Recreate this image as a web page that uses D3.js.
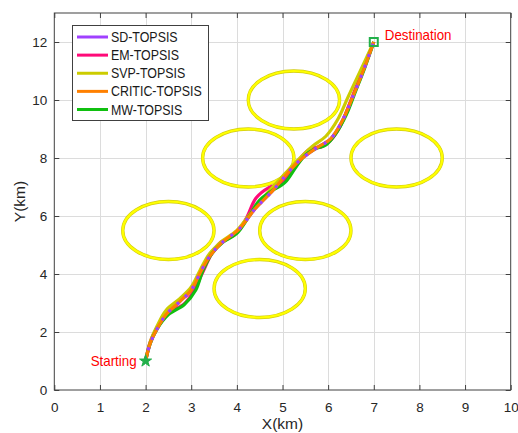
<!DOCTYPE html>
<html><head><meta charset="utf-8">
<script src="https://cdn.jsdelivr.net/npm/d3@7"></script>
<style>body{margin:0;background:#fff}</style>
</head><body>
<svg id="c" width="518" height="433"></svg>
<script>
// ---------- data ----------
const xTicks = [0,1,2,3,4,5,6,7,8,9,10];
const yTicks = [0,2,4,6,8,10,12];
const seriesNames = ["SD-TOPSIS","EM-TOPSIS","SVP-TOPSIS","CRITIC-TOPSIS","MW-TOPSIS"];
const obstacleX = [2.5, 4.5, 5.5, 4.25, 5.25, 7.5];
const obstacleY = [5.5, 3.5, 5.5, 8, 10, 8];
const obstacleR = [1, 1, 1, 1, 1, 1];
const startPoint = [2, 1];
const endPoint = [7, 12];
const sdPath = [[2,1],[2.1,1.6],[2.25,2.1],[2.45,2.6],[2.75,3.05],[3.0,3.45],[3.2,4.05],[3.4,4.6],[3.65,5.05],[4.05,5.55],[4.4,6.25],[4.8,6.9],[5.15,7.55],[5.4,7.95],[5.75,8.35],[6.05,8.65],[6.3,9.25],[6.55,10.15],[6.78,11.05],[7,12]];
const emPath = [[2,1],[2.1,1.65],[2.25,2.15],[2.5,2.65],[2.85,2.98],[3.05,3.4],[3.25,4.05],[3.45,4.7],[3.65,5.1],[3.95,5.35],[4.2,5.9],[4.42,6.62],[4.7,6.98],[5.0,7.15],[5.25,7.7],[5.45,8.1],[5.65,8.35],[5.85,8.38],[6.05,8.6],[6.25,9.05],[6.5,10.0],[6.75,11.0],[7,12]];
const svpPath = [[2,1],[2.1,1.65],[2.25,2.2],[2.45,2.75],[2.75,3.15],[3.0,3.55],[3.2,4.15],[3.4,4.7],[3.65,5.1],[4.0,5.5],[4.35,6.2],[4.7,6.85],[5.05,7.45],[5.35,7.95],[5.65,8.4],[5.95,8.75],[6.2,9.3],[6.45,10.15],[6.72,11.05],[7,12]];
const criticPath = [[2,1],[2.1,1.6],[2.25,2.1],[2.45,2.6],[2.75,3.05],[3.0,3.45],[3.2,4.05],[3.4,4.6],[3.65,5.05],[4.05,5.55],[4.4,6.25],[4.8,6.9],[5.15,7.55],[5.4,7.95],[5.75,8.35],[6.05,8.65],[6.3,9.25],[6.55,10.15],[6.78,11.05],[7,12]];
const mwPath = [[2,1],[2.1,1.6],[2.25,2.1],[2.5,2.6],[2.85,2.95],[3.1,3.45],[3.25,4.1],[3.45,4.7],[3.7,5.1],[4.0,5.4],[4.25,5.95],[4.5,6.55],[4.75,6.85],[5.05,7.15],[5.3,7.7],[5.5,8.1],[5.7,8.3],[5.95,8.45],[6.15,8.8],[6.4,9.5],[6.6,10.3],[6.8,11.1],[7,12]];

// ---------- styles ----------
const colors = {SD:"#a040ff", EM:"#ff0a78", SVP:"#cccc00", CRITIC:"#ff8000", MW:"#10c010"};
const legendColors = [colors.SD, colors.EM, colors.SVP, colors.CRITIC, colors.MW];
const FONT = "'Liberation Sans', Arial, Helvetica, sans-serif";
const TXT = "#262626";

const svg = d3.select("#c");
const L = 54.3, R = 510.7, T = 13, B = 390;
const x = d3.scaleLinear().domain([0,10]).range([L,R]);
const y = d3.scaleLinear().domain([0,13]).range([B,T]);

// grid
const grid = svg.append("g").attr("stroke","#dcdcdc").attr("stroke-width",1);
grid.selectAll(".gx").data(xTicks.slice(1,-1)).join("line")
  .attr("x1",d=>Math.round(x(d))+0.5).attr("x2",d=>Math.round(x(d))+0.5).attr("y1",T).attr("y2",B);
grid.selectAll(".gy").data(yTicks.slice(1)).join("line")
  .attr("y1",d=>Math.round(y(d))+0.5).attr("y2",d=>Math.round(y(d))+0.5).attr("x1",L).attr("x2",R);

// obstacles
const obs = obstacleX.map((cx,i)=>({cx, cy:obstacleY[i], r:obstacleR[i]}));
svg.append("g").selectAll("ellipse").data(obs).join("ellipse")
  .attr("cx",d=>x(d.cx)).attr("cy",d=>y(d.cy))
  .attr("rx",d=>x(d.r)-x(0)).attr("ry",d=>y(0)-y(d.r))
  .attr("fill","none").attr("stroke","#d2cc10").attr("stroke-width",3.4);
svg.append("g").selectAll("ellipse").data(obs).join("ellipse")
  .attr("cx",d=>x(d.cx)).attr("cy",d=>y(d.cy))
  .attr("rx",d=>x(d.r)-x(0)).attr("ry",d=>y(0)-y(d.r))
  .attr("fill","none").attr("stroke","#ffff00").attr("stroke-width",2.2);

// paths
const line = d3.line().x(d=>x(d[0])).y(d=>y(d[1])).curve(d3.curveCatmullRom.alpha(0.5));
const lw = 3.2;
const drawPath = (data,c,dash)=>svg.append("path").attr("d",line(data)).attr("fill","none")
  .attr("stroke",c).attr("stroke-width",lw).attr("stroke-linejoin","round")
  .attr("stroke-dasharray",dash||null);
drawPath(sdPath, colors.SD);
drawPath(emPath, colors.EM);
drawPath(svpPath, colors.SVP);
drawPath(mwPath, colors.MW);
drawPath(criticPath, colors.CRITIC);
drawPath(sdPath, colors.SD, "3,8");

// start / end markers
svg.append("path").attr("d",d3.symbol(d3.symbolStar,45)())
  .attr("transform",`translate(${x(startPoint[0])},${y(startPoint[1])})`)
  .attr("fill","#22b04a").attr("stroke","#22b04a").attr("stroke-width",1);
svg.append("rect").attr("x",x(endPoint[0])-4).attr("y",y(endPoint[1])-4).attr("width",8).attr("height",8)
  .attr("fill","none").attr("stroke","#22b04a").attr("stroke-width",2);

// condensed text helper
function ctext(g,px,py,str,size,sx,anchor,color){
  const t = g.append("g").attr("transform",`translate(${px},${py}) scale(${sx},1)`);
  return t.append("text").text(str).attr("font-family",FONT).attr("font-size",size)
    .attr("text-anchor",anchor||"start").attr("fill",color||TXT);
}
ctext(svg, x(startPoint[0])-9, y(startPoint[1])+4.5, "Starting", 14.5, 0.92, "end", "#ff0000");
ctext(svg, x(endPoint[0])+11, y(endPoint[1])-2, "Destination", 14.5, 0.92, "start", "#ff0000");

// frame
svg.append("rect").attr("x",L).attr("y",T).attr("width",R-L).attr("height",B-T)
  .attr("fill","none").attr("stroke","#404040").attr("stroke-width",1);

// axes
const ax = svg.append("g").attr("transform",`translate(0,${B})`)
  .call(d3.axisBottom(x).tickValues(xTicks).tickSize(-5).tickPadding(12).tickFormat(d3.format("d")));
const axT = svg.append("g").attr("transform",`translate(0,${T})`)
  .call(d3.axisTop(x).tickValues(xTicks).tickSize(-5).tickFormat(""));
const ay = svg.append("g").attr("transform",`translate(${L},0)`)
  .call(d3.axisLeft(y).tickValues(yTicks).tickSize(-5).tickPadding(7).tickFormat(d3.format("d")));
const ayR = svg.append("g").attr("transform",`translate(${R},0)`)
  .call(d3.axisRight(y).tickValues(yTicks).tickSize(-5).tickFormat(""));
[ax,axT,ay,ayR].forEach(a=>{
  a.select(".domain").remove();
  a.selectAll(".tick line").attr("stroke","#404040");
  a.selectAll("text").attr("font-family",FONT).attr("font-size",13.5).attr("fill",TXT);
});

// axis labels
svg.append("text").attr("x",(L+R)/2).attr("y",429).attr("text-anchor","middle")
  .attr("font-family",FONT).attr("font-size",15.5).attr("fill",TXT).text("X(km)");
svg.append("text").attr("transform",`translate(25,${(T+B)/2}) rotate(-90)`).attr("text-anchor","middle")
  .attr("font-family",FONT).attr("font-size",15.5).attr("fill",TXT).text("Y(km)");

// legend
const lg = svg.append("g");
lg.append("rect").attr("x",72.5).attr("y",25.5).attr("width",136).attr("height",95)
  .attr("fill","#fff").attr("stroke","#404040").attr("stroke-width",1);
const rowY = d3.scaleLinear().domain([0,4]).range([37,109.5]);
seriesNames.forEach((n,i)=>{
  lg.append("line").attr("x1",77).attr("x2",108).attr("y1",rowY(i)).attr("y2",rowY(i))
    .attr("stroke",legendColors[i]).attr("stroke-width",3);
  ctext(lg, 111, rowY(i)+5, n, 13.8, 0.9, "start", "#1a1a1a");
});
</script>
</body></html>
